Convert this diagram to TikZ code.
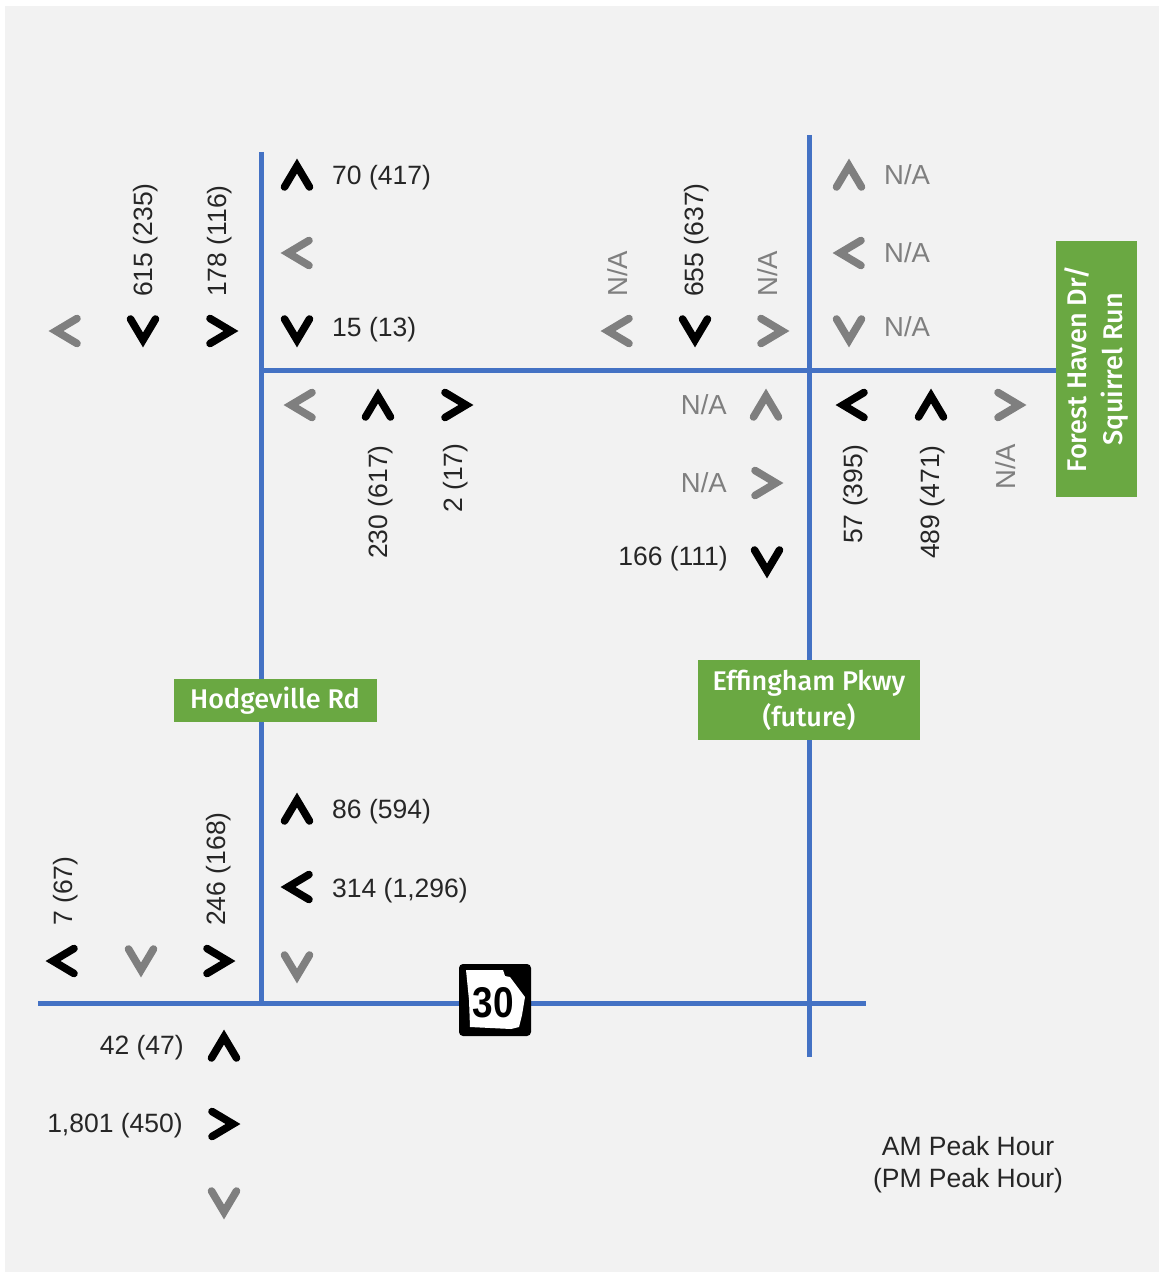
\documentclass[tikz,border=0pt]{standalone}
\usepackage{fontspec}
\setmainfont{Liberation Sans}
\newfontfamily\signfont{Fira Sans Medium}
\definecolor{roadblue}{HTML}{4472C4}
\definecolor{signgreen}{HTML}{6AA842}
\definecolor{panelgrey}{HTML}{F2F2F2}
\definecolor{nagrey}{HTML}{7F7F7F}
\newcommand\chev[4]{\draw[chevline,#4,shift={(#1,#2)},rotate=#3] (-12.5,12) -- (0,-9) -- (12.5,12);}
\tikzset{
  chevline/.style={line width=7.6pt,line cap=round,miter limit=10},
  road/.style={roadblue,line width=5pt},
  vol/.style={font=\fontsize{26.5}{32}\selectfont,text=black!85,inner sep=0pt},
  na/.style={font=\fontsize{27.5}{30}\selectfont,text=nagrey,inner sep=0pt},
  sign/.style={fill=signgreen,text=white,inner sep=0pt,align=center,font=\signfont\fontsize{27}{36}\selectfont},
}
\begin{document}
\begin{tikzpicture}[x=1pt,y=-1pt]
\useasboundingbox (0,0) rectangle (1160,1276);
\fill[panelgrey] (5,6) rectangle (1159,1272);
% road ends
\coordinate (hTop) at (261,152);
\coordinate (hBot) at (261,1003);
\coordinate (eTop) at (809.5,135);
\coordinate (eBot) at (809.5,1057);
\coordinate (fW) at (261,370);
\coordinate (fE) at (1057,370);
\coordinate (uW) at (38,1003);
\coordinate (uE) at (866,1003);
\draw[road] (hTop) -- (hBot);
\draw[road] (eTop) -- (eBot);
\draw[road] (fW) -- (fE);
\draw[road] (uW) -- (uE);
% signs
\node[sign,minimum width=203pt,minimum height=43pt] (hodge) at (275,700.5) {Hodgeville Rd};
\node[sign,minimum width=222pt,minimum height=80pt] (effing) at (809,700) {Effingham Pkwy\\(future)};
\node[sign,minimum width=256pt,minimum height=81pt,rotate=90] (forest) at (1096.5,369) {Forest Haven Dr/\\Squirrel Run};
% route shield
\fill[black,rounded corners=4pt] (459,964) rectangle (531,1036);
\fill[white] (466,970) -- (503,970) -- (505,976) -- (510,977) -- (525,997) -- (522,1015) -- (519,1027) -- (511,1029) -- (470,1027) -- (469,1000) -- cycle;
\node[inner sep=0pt,font=\bfseries\fontsize{43}{46}\selectfont,xscale=0.86] (shield) at (493,1003) {30};
% chevrons
\chev{297}{175}{0}{black}
\chev{297}{253}{90}{nagrey}
\chev{297}{331}{180}{black}
\chev{65}{331}{90}{nagrey}
\chev{143}{331}{180}{black}
\chev{222}{331}{-90}{black}
\chev{300}{405}{90}{nagrey}
\chev{378}{405}{0}{black}
\chev{457}{405}{-90}{black}
\chev{617}{331}{90}{nagrey}
\chev{695}{331}{180}{black}
\chev{773}{331}{-90}{nagrey}
\chev{849}{175}{0}{nagrey}
\chev{849}{253}{90}{nagrey}
\chev{849}{331}{180}{nagrey}
\chev{766}{405}{0}{nagrey}
\chev{767}{483}{-90}{nagrey}
\chev{767}{562}{180}{black}
\chev{852}{405}{90}{black}
\chev{931}{405}{0}{black}
\chev{1010}{405}{-90}{nagrey}
\chev{297}{809}{0}{black}
\chev{297}{887}{90}{black}
\chev{297}{967}{180}{nagrey}
\chev{62}{961}{90}{black}
\chev{141}{961}{180}{nagrey}
\chev{219}{961}{-90}{black}
\chev{224}{1046}{0}{black}
\chev{224}{1124}{-90}{black}
\chev{224}{1203}{180}{nagrey}
% horizontal volumes
\node[vol,anchor=west] (a1) at (332,178) {70 (417)};
\node[vol,anchor=west] (a2) at (332,330) {15 (13)};
\node[vol,anchor=west] (a3) at (332,812) {86 (594)};
\node[vol,anchor=west] (a4) at (332,891) {314 (1,296)};
\node[vol,anchor=east] (a5) at (184,1048) {42 (47)};
\node[vol,anchor=east] (a6) at (183,1126) {1,801 (450)};
\node[vol,anchor=east] (a7) at (728,559) {166 (111)};
% vertical volumes
\node[vol,rotate=90,anchor=west] (b1) at (146,297) {615 (235)};
\node[vol,rotate=90,anchor=west] (b2) at (220,297) {178 (116)};
\node[vol,rotate=90,anchor=west] (b3) at (697,297) {655 (637)};
\node[vol,rotate=90,anchor=west] (b4) at (381,559) {230 (617)};
\node[vol,rotate=90,anchor=west] (b5) at (456,513) {2 (17)};
\node[vol,rotate=90,anchor=west] (b6) at (856,544) {57 (395)};
\node[vol,rotate=90,anchor=west] (b7) at (933,559) {489 (471)};
\node[vol,rotate=90,anchor=west] (b8) at (66,926) {7 (67)};
\node[vol,rotate=90,anchor=west] (b9) at (219,926) {246 (168)};
% N/A
\node[na,anchor=west] (n1) at (884,175) {N/A};
\node[na,anchor=west] (n2) at (884,253) {N/A};
\node[na,anchor=west] (n3) at (884,327) {N/A};
\node[na,anchor=east] (n4) at (727,405) {N/A};
\node[na,anchor=east] (n5) at (727,483) {N/A};
\node[na,rotate=90,anchor=west] (n6) at (618,297) {N/A};
\node[na,rotate=90,anchor=west] (n7) at (768,297) {N/A};
\node[na,rotate=90,anchor=west] (n8) at (1006,490) {N/A};
% legend
\node[vol,align=center] (legend) at (968,1165) {AM Peak Hour\\(PM Peak Hour)};
\end{tikzpicture}
\end{document}
